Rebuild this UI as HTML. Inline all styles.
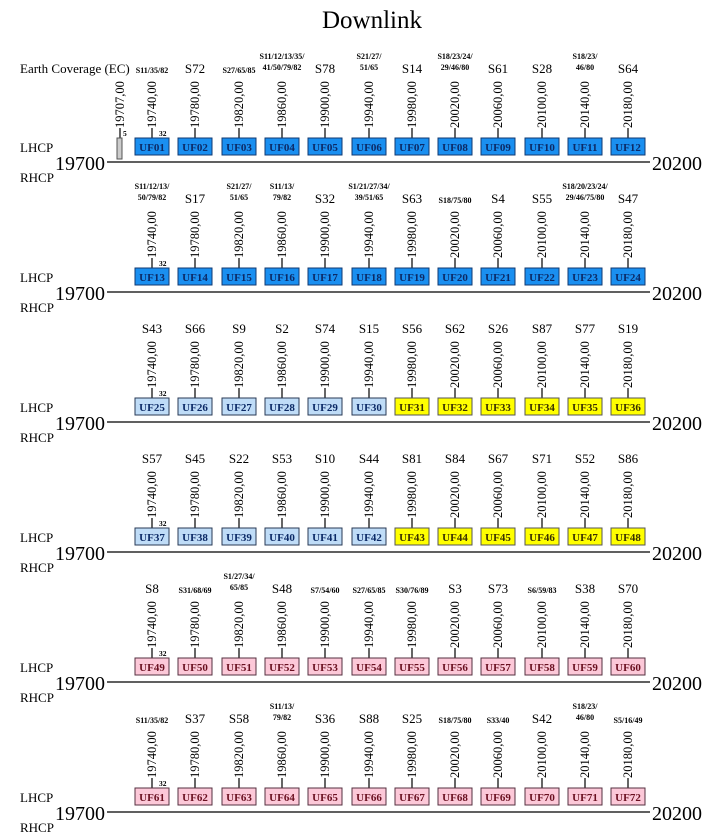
<!DOCTYPE html>
<html><head><meta charset="utf-8"><style>
body{margin:0;background:#fff}
svg{display:block;font-family:"Liberation Serif",serif}
.s{font-size:13px;text-anchor:middle}
.m{font-size:8px;font-weight:bold;text-anchor:middle}
.t{font-size:12.5px}
.u{font-size:11px;font-weight:bold;text-anchor:middle}
.n{font-size:7.5px;font-weight:bold}
line{stroke:#000;stroke-width:1.2}
.B rect{fill:#1a8ff0;stroke:#123a70}.B .u{fill:#0c2a66}
.L rect{fill:#bfdcf7;stroke:#2a3a55}.L .u{fill:#0c2a66}
.Y rect{fill:#ffff00;stroke:#555}.Y .u{fill:#3a3000}
.P rect{fill:#fcc8d8;stroke:#553040}.P .u{fill:#6a1020}
.ax{font-size:20px}
.lab{font-size:13px}
</style></head><body>
<svg width="710" height="840" viewBox="0 0 710 840">
<text x="372" y="28" style="font-size:25px" text-anchor="middle">Downlink</text>
<text x="20" y="73" class="lab">Earth Coverage (EC)</text>
<g><text class="t" transform="translate(124,128) rotate(-90)">19707,00</text><line x1="120" y1="128" x2="120" y2="138"/><rect x="117" y="138" width="5" height="21" fill="#ccc" stroke="#555"/><text class="n" x="123" y="136">5</text></g>

<!-- ROW TEMPLATE -->
<g id="r1" class="B">
<g transform="translate(152,0)"><text class="m" y="73">S11/35/82</text><text class="t" transform="translate(4,128) rotate(-90)">19740,00</text><line x1="0" y1="128" x2="0" y2="138"/><text class="n" x="7" y="136">32</text><rect x="-17" y="138" width="34" height="17"/><text class="u" y="151">UF01</text></g>
<g transform="translate(195,0)"><text class="s" y="73">S72</text><text class="t" transform="translate(4,128) rotate(-90)">19780,00</text><line x1="0" y1="128" x2="0" y2="138"/><rect x="-17" y="138" width="34" height="17"/><text class="u" y="151">UF02</text></g>
<g transform="translate(239,0)"><text class="m" y="73">S27/65/85</text><text class="t" transform="translate(4,128) rotate(-90)">19820,00</text><line x1="0" y1="128" x2="0" y2="138"/><rect x="-17" y="138" width="34" height="17"/><text class="u" y="151">UF03</text></g>
<g transform="translate(282,0)"><text class="m" y="59">S11/12/13/35/</text><text class="m" y="70">41/50/79/82</text><text class="t" transform="translate(4,128) rotate(-90)">19860,00</text><line x1="0" y1="128" x2="0" y2="138"/><rect x="-17" y="138" width="34" height="17"/><text class="u" y="151">UF04</text></g>
<g transform="translate(325,0)"><text class="s" y="73">S78</text><text class="t" transform="translate(4,128) rotate(-90)">19900,00</text><line x1="0" y1="128" x2="0" y2="138"/><rect x="-17" y="138" width="34" height="17"/><text class="u" y="151">UF05</text></g>
<g transform="translate(369,0)"><text class="m" y="59">S21/27/</text><text class="m" y="70">51/65</text><text class="t" transform="translate(4,128) rotate(-90)">19940,00</text><line x1="0" y1="128" x2="0" y2="138"/><rect x="-17" y="138" width="34" height="17"/><text class="u" y="151">UF06</text></g>
<g transform="translate(412,0)"><text class="s" y="73">S14</text><text class="t" transform="translate(4,128) rotate(-90)">19980,00</text><line x1="0" y1="128" x2="0" y2="138"/><rect x="-17" y="138" width="34" height="17"/><text class="u" y="151">UF07</text></g>
<g transform="translate(455,0)"><text class="m" y="59">S18/23/24/</text><text class="m" y="70">29/46/80</text><text class="t" transform="translate(4,128) rotate(-90)">20020,00</text><line x1="0" y1="128" x2="0" y2="138"/><rect x="-17" y="138" width="34" height="17"/><text class="u" y="151">UF08</text></g>
<g transform="translate(498,0)"><text class="s" y="73">S61</text><text class="t" transform="translate(4,128) rotate(-90)">20060,00</text><line x1="0" y1="128" x2="0" y2="138"/><rect x="-17" y="138" width="34" height="17"/><text class="u" y="151">UF09</text></g>
<g transform="translate(542,0)"><text class="s" y="73">S28</text><text class="t" transform="translate(4,128) rotate(-90)">20100,00</text><line x1="0" y1="128" x2="0" y2="138"/><rect x="-17" y="138" width="34" height="17"/><text class="u" y="151">UF10</text></g>
<g transform="translate(585,0)"><text class="m" y="59">S18/23/</text><text class="m" y="70">46/80</text><text class="t" transform="translate(4,128) rotate(-90)">20140,00</text><line x1="0" y1="128" x2="0" y2="138"/><rect x="-17" y="138" width="34" height="17"/><text class="u" y="151">UF11</text></g>
<g transform="translate(628,0)"><text class="s" y="73">S64</text><text class="t" transform="translate(4,128) rotate(-90)">20180,00</text><line x1="0" y1="128" x2="0" y2="138"/><rect x="-17" y="138" width="34" height="17"/><text class="u" y="151">UF12</text></g>
<text class="lab" x="20" y="152">LHCP</text><text class="ax" x="105" y="170" text-anchor="end">19700</text><line x1="107" y1="162" x2="650" y2="162"/><text class="ax" x="652" y="170">20200</text><text class="lab" x="20" y="182">RHCP</text>
</g>

<g class="B" transform="translate(0,130)">
<g transform="translate(152,0)"><text class="m" y="59">S11/12/13/</text><text class="m" y="70">50/79/82</text><text class="t" transform="translate(4,128) rotate(-90)">19740,00</text><line x1="0" y1="128" x2="0" y2="138"/><text class="n" x="7" y="136">32</text><rect x="-17" y="138" width="34" height="17"/><text class="u" y="151">UF13</text></g>
<g transform="translate(195,0)"><text class="s" y="73">S17</text><text class="t" transform="translate(4,128) rotate(-90)">19780,00</text><line x1="0" y1="128" x2="0" y2="138"/><rect x="-17" y="138" width="34" height="17"/><text class="u" y="151">UF14</text></g>
<g transform="translate(239,0)"><text class="m" y="59">S21/27/</text><text class="m" y="70">51/65</text><text class="t" transform="translate(4,128) rotate(-90)">19820,00</text><line x1="0" y1="128" x2="0" y2="138"/><rect x="-17" y="138" width="34" height="17"/><text class="u" y="151">UF15</text></g>
<g transform="translate(282,0)"><text class="m" y="59">S11/13/</text><text class="m" y="70">79/82</text><text class="t" transform="translate(4,128) rotate(-90)">19860,00</text><line x1="0" y1="128" x2="0" y2="138"/><rect x="-17" y="138" width="34" height="17"/><text class="u" y="151">UF16</text></g>
<g transform="translate(325,0)"><text class="s" y="73">S32</text><text class="t" transform="translate(4,128) rotate(-90)">19900,00</text><line x1="0" y1="128" x2="0" y2="138"/><rect x="-17" y="138" width="34" height="17"/><text class="u" y="151">UF17</text></g>
<g transform="translate(369,0)"><text class="m" y="59">S1/21/27/34/</text><text class="m" y="70">39/51/65</text><text class="t" transform="translate(4,128) rotate(-90)">19940,00</text><line x1="0" y1="128" x2="0" y2="138"/><rect x="-17" y="138" width="34" height="17"/><text class="u" y="151">UF18</text></g>
<g transform="translate(412,0)"><text class="s" y="73">S63</text><text class="t" transform="translate(4,128) rotate(-90)">19980,00</text><line x1="0" y1="128" x2="0" y2="138"/><rect x="-17" y="138" width="34" height="17"/><text class="u" y="151">UF19</text></g>
<g transform="translate(455,0)"><text class="m" y="73">S18/75/80</text><text class="t" transform="translate(4,128) rotate(-90)">20020,00</text><line x1="0" y1="128" x2="0" y2="138"/><rect x="-17" y="138" width="34" height="17"/><text class="u" y="151">UF20</text></g>
<g transform="translate(498,0)"><text class="s" y="73">S4</text><text class="t" transform="translate(4,128) rotate(-90)">20060,00</text><line x1="0" y1="128" x2="0" y2="138"/><rect x="-17" y="138" width="34" height="17"/><text class="u" y="151">UF21</text></g>
<g transform="translate(542,0)"><text class="s" y="73">S55</text><text class="t" transform="translate(4,128) rotate(-90)">20100,00</text><line x1="0" y1="128" x2="0" y2="138"/><rect x="-17" y="138" width="34" height="17"/><text class="u" y="151">UF22</text></g>
<g transform="translate(585,0)"><text class="m" y="59">S18/20/23/24/</text><text class="m" y="70">29/46/75/80</text><text class="t" transform="translate(4,128) rotate(-90)">20140,00</text><line x1="0" y1="128" x2="0" y2="138"/><rect x="-17" y="138" width="34" height="17"/><text class="u" y="151">UF23</text></g>
<g transform="translate(628,0)"><text class="s" y="73">S47</text><text class="t" transform="translate(4,128) rotate(-90)">20180,00</text><line x1="0" y1="128" x2="0" y2="138"/><rect x="-17" y="138" width="34" height="17"/><text class="u" y="151">UF24</text></g>
<text class="lab" x="20" y="152">LHCP</text><text class="ax" x="105" y="170" text-anchor="end">19700</text><line x1="107" y1="162" x2="650" y2="162"/><text class="ax" x="652" y="170">20200</text><text class="lab" x="20" y="182">RHCP</text>
</g>

<g transform="translate(0,260)">
<g class="L" transform="translate(152,0)"><text class="s" y="73">S43</text><text class="t" transform="translate(4,128) rotate(-90)">19740,00</text><line x1="0" y1="128" x2="0" y2="138"/><text class="n" x="7" y="136">32</text><rect x="-17" y="138" width="34" height="17"/><text class="u" y="151">UF25</text></g>
<g class="L" transform="translate(195,0)"><text class="s" y="73">S66</text><text class="t" transform="translate(4,128) rotate(-90)">19780,00</text><line x1="0" y1="128" x2="0" y2="138"/><rect x="-17" y="138" width="34" height="17"/><text class="u" y="151">UF26</text></g>
<g class="L" transform="translate(239,0)"><text class="s" y="73">S9</text><text class="t" transform="translate(4,128) rotate(-90)">19820,00</text><line x1="0" y1="128" x2="0" y2="138"/><rect x="-17" y="138" width="34" height="17"/><text class="u" y="151">UF27</text></g>
<g class="L" transform="translate(282,0)"><text class="s" y="73">S2</text><text class="t" transform="translate(4,128) rotate(-90)">19860,00</text><line x1="0" y1="128" x2="0" y2="138"/><rect x="-17" y="138" width="34" height="17"/><text class="u" y="151">UF28</text></g>
<g class="L" transform="translate(325,0)"><text class="s" y="73">S74</text><text class="t" transform="translate(4,128) rotate(-90)">19900,00</text><line x1="0" y1="128" x2="0" y2="138"/><rect x="-17" y="138" width="34" height="17"/><text class="u" y="151">UF29</text></g>
<g class="L" transform="translate(369,0)"><text class="s" y="73">S15</text><text class="t" transform="translate(4,128) rotate(-90)">19940,00</text><line x1="0" y1="128" x2="0" y2="138"/><rect x="-17" y="138" width="34" height="17"/><text class="u" y="151">UF30</text></g>
<g class="Y" transform="translate(412,0)"><text class="s" y="73">S56</text><text class="t" transform="translate(4,128) rotate(-90)">19980,00</text><line x1="0" y1="128" x2="0" y2="138"/><rect x="-17" y="138" width="34" height="17"/><text class="u" y="151">UF31</text></g>
<g class="Y" transform="translate(455,0)"><text class="s" y="73">S62</text><text class="t" transform="translate(4,128) rotate(-90)">20020,00</text><line x1="0" y1="128" x2="0" y2="138"/><rect x="-17" y="138" width="34" height="17"/><text class="u" y="151">UF32</text></g>
<g class="Y" transform="translate(498,0)"><text class="s" y="73">S26</text><text class="t" transform="translate(4,128) rotate(-90)">20060,00</text><line x1="0" y1="128" x2="0" y2="138"/><rect x="-17" y="138" width="34" height="17"/><text class="u" y="151">UF33</text></g>
<g class="Y" transform="translate(542,0)"><text class="s" y="73">S87</text><text class="t" transform="translate(4,128) rotate(-90)">20100,00</text><line x1="0" y1="128" x2="0" y2="138"/><rect x="-17" y="138" width="34" height="17"/><text class="u" y="151">UF34</text></g>
<g class="Y" transform="translate(585,0)"><text class="s" y="73">S77</text><text class="t" transform="translate(4,128) rotate(-90)">20140,00</text><line x1="0" y1="128" x2="0" y2="138"/><rect x="-17" y="138" width="34" height="17"/><text class="u" y="151">UF35</text></g>
<g class="Y" transform="translate(628,0)"><text class="s" y="73">S19</text><text class="t" transform="translate(4,128) rotate(-90)">20180,00</text><line x1="0" y1="128" x2="0" y2="138"/><rect x="-17" y="138" width="34" height="17"/><text class="u" y="151">UF36</text></g>
<text class="lab" x="20" y="152">LHCP</text><text class="ax" x="105" y="170" text-anchor="end">19700</text><line x1="107" y1="162" x2="650" y2="162"/><text class="ax" x="652" y="170">20200</text><text class="lab" x="20" y="182">RHCP</text>
</g>

<g transform="translate(0,390)">
<g class="L" transform="translate(152,0)"><text class="s" y="73">S57</text><text class="t" transform="translate(4,128) rotate(-90)">19740,00</text><line x1="0" y1="128" x2="0" y2="138"/><text class="n" x="7" y="136">32</text><rect x="-17" y="138" width="34" height="17"/><text class="u" y="151">UF37</text></g>
<g class="L" transform="translate(195,0)"><text class="s" y="73">S45</text><text class="t" transform="translate(4,128) rotate(-90)">19780,00</text><line x1="0" y1="128" x2="0" y2="138"/><rect x="-17" y="138" width="34" height="17"/><text class="u" y="151">UF38</text></g>
<g class="L" transform="translate(239,0)"><text class="s" y="73">S22</text><text class="t" transform="translate(4,128) rotate(-90)">19820,00</text><line x1="0" y1="128" x2="0" y2="138"/><rect x="-17" y="138" width="34" height="17"/><text class="u" y="151">UF39</text></g>
<g class="L" transform="translate(282,0)"><text class="s" y="73">S53</text><text class="t" transform="translate(4,128) rotate(-90)">19860,00</text><line x1="0" y1="128" x2="0" y2="138"/><rect x="-17" y="138" width="34" height="17"/><text class="u" y="151">UF40</text></g>
<g class="L" transform="translate(325,0)"><text class="s" y="73">S10</text><text class="t" transform="translate(4,128) rotate(-90)">19900,00</text><line x1="0" y1="128" x2="0" y2="138"/><rect x="-17" y="138" width="34" height="17"/><text class="u" y="151">UF41</text></g>
<g class="L" transform="translate(369,0)"><text class="s" y="73">S44</text><text class="t" transform="translate(4,128) rotate(-90)">19940,00</text><line x1="0" y1="128" x2="0" y2="138"/><rect x="-17" y="138" width="34" height="17"/><text class="u" y="151">UF42</text></g>
<g class="Y" transform="translate(412,0)"><text class="s" y="73">S81</text><text class="t" transform="translate(4,128) rotate(-90)">19980,00</text><line x1="0" y1="128" x2="0" y2="138"/><rect x="-17" y="138" width="34" height="17"/><text class="u" y="151">UF43</text></g>
<g class="Y" transform="translate(455,0)"><text class="s" y="73">S84</text><text class="t" transform="translate(4,128) rotate(-90)">20020,00</text><line x1="0" y1="128" x2="0" y2="138"/><rect x="-17" y="138" width="34" height="17"/><text class="u" y="151">UF44</text></g>
<g class="Y" transform="translate(498,0)"><text class="s" y="73">S67</text><text class="t" transform="translate(4,128) rotate(-90)">20060,00</text><line x1="0" y1="128" x2="0" y2="138"/><rect x="-17" y="138" width="34" height="17"/><text class="u" y="151">UF45</text></g>
<g class="Y" transform="translate(542,0)"><text class="s" y="73">S71</text><text class="t" transform="translate(4,128) rotate(-90)">20100,00</text><line x1="0" y1="128" x2="0" y2="138"/><rect x="-17" y="138" width="34" height="17"/><text class="u" y="151">UF46</text></g>
<g class="Y" transform="translate(585,0)"><text class="s" y="73">S52</text><text class="t" transform="translate(4,128) rotate(-90)">20140,00</text><line x1="0" y1="128" x2="0" y2="138"/><rect x="-17" y="138" width="34" height="17"/><text class="u" y="151">UF47</text></g>
<g class="Y" transform="translate(628,0)"><text class="s" y="73">S86</text><text class="t" transform="translate(4,128) rotate(-90)">20180,00</text><line x1="0" y1="128" x2="0" y2="138"/><rect x="-17" y="138" width="34" height="17"/><text class="u" y="151">UF48</text></g>
<text class="lab" x="20" y="152">LHCP</text><text class="ax" x="105" y="170" text-anchor="end">19700</text><line x1="107" y1="162" x2="650" y2="162"/><text class="ax" x="652" y="170">20200</text><text class="lab" x="20" y="182">RHCP</text>
</g>

<g class="P" transform="translate(0,520)">
<g transform="translate(152,0)"><text class="s" y="73">S8</text><text class="t" transform="translate(4,128) rotate(-90)">19740,00</text><line x1="0" y1="128" x2="0" y2="138"/><text class="n" x="7" y="136">32</text><rect x="-17" y="138" width="34" height="17"/><text class="u" y="151">UF49</text></g>
<g transform="translate(195,0)"><text class="m" y="73">S31/68/69</text><text class="t" transform="translate(4,128) rotate(-90)">19780,00</text><line x1="0" y1="128" x2="0" y2="138"/><rect x="-17" y="138" width="34" height="17"/><text class="u" y="151">UF50</text></g>
<g transform="translate(239,0)"><text class="m" y="59">S1/27/34/</text><text class="m" y="70">65/85</text><text class="t" transform="translate(4,128) rotate(-90)">19820,00</text><line x1="0" y1="128" x2="0" y2="138"/><rect x="-17" y="138" width="34" height="17"/><text class="u" y="151">UF51</text></g>
<g transform="translate(282,0)"><text class="s" y="73">S48</text><text class="t" transform="translate(4,128) rotate(-90)">19860,00</text><line x1="0" y1="128" x2="0" y2="138"/><rect x="-17" y="138" width="34" height="17"/><text class="u" y="151">UF52</text></g>
<g transform="translate(325,0)"><text class="m" y="73">S7/54/60</text><text class="t" transform="translate(4,128) rotate(-90)">19900,00</text><line x1="0" y1="128" x2="0" y2="138"/><rect x="-17" y="138" width="34" height="17"/><text class="u" y="151">UF53</text></g>
<g transform="translate(369,0)"><text class="m" y="73">S27/65/85</text><text class="t" transform="translate(4,128) rotate(-90)">19940,00</text><line x1="0" y1="128" x2="0" y2="138"/><rect x="-17" y="138" width="34" height="17"/><text class="u" y="151">UF54</text></g>
<g transform="translate(412,0)"><text class="m" y="73">S30/76/89</text><text class="t" transform="translate(4,128) rotate(-90)">19980,00</text><line x1="0" y1="128" x2="0" y2="138"/><rect x="-17" y="138" width="34" height="17"/><text class="u" y="151">UF55</text></g>
<g transform="translate(455,0)"><text class="s" y="73">S3</text><text class="t" transform="translate(4,128) rotate(-90)">20020,00</text><line x1="0" y1="128" x2="0" y2="138"/><rect x="-17" y="138" width="34" height="17"/><text class="u" y="151">UF56</text></g>
<g transform="translate(498,0)"><text class="s" y="73">S73</text><text class="t" transform="translate(4,128) rotate(-90)">20060,00</text><line x1="0" y1="128" x2="0" y2="138"/><rect x="-17" y="138" width="34" height="17"/><text class="u" y="151">UF57</text></g>
<g transform="translate(542,0)"><text class="m" y="73">S6/59/83</text><text class="t" transform="translate(4,128) rotate(-90)">20100,00</text><line x1="0" y1="128" x2="0" y2="138"/><rect x="-17" y="138" width="34" height="17"/><text class="u" y="151">UF58</text></g>
<g transform="translate(585,0)"><text class="s" y="73">S38</text><text class="t" transform="translate(4,128) rotate(-90)">20140,00</text><line x1="0" y1="128" x2="0" y2="138"/><rect x="-17" y="138" width="34" height="17"/><text class="u" y="151">UF59</text></g>
<g transform="translate(628,0)"><text class="s" y="73">S70</text><text class="t" transform="translate(4,128) rotate(-90)">20180,00</text><line x1="0" y1="128" x2="0" y2="138"/><rect x="-17" y="138" width="34" height="17"/><text class="u" y="151">UF60</text></g>
<text class="lab" x="20" y="152">LHCP</text><text class="ax" x="105" y="170" text-anchor="end">19700</text><line x1="107" y1="162" x2="650" y2="162"/><text class="ax" x="652" y="170">20200</text><text class="lab" x="20" y="182">RHCP</text>
</g>

<g class="P" transform="translate(0,650)">
<g transform="translate(152,0)"><text class="m" y="73">S11/35/82</text><text class="t" transform="translate(4,128) rotate(-90)">19740,00</text><line x1="0" y1="128" x2="0" y2="138"/><text class="n" x="7" y="136">32</text><rect x="-17" y="138" width="34" height="17"/><text class="u" y="151">UF61</text></g>
<g transform="translate(195,0)"><text class="s" y="73">S37</text><text class="t" transform="translate(4,128) rotate(-90)">19780,00</text><line x1="0" y1="128" x2="0" y2="138"/><rect x="-17" y="138" width="34" height="17"/><text class="u" y="151">UF62</text></g>
<g transform="translate(239,0)"><text class="s" y="73">S58</text><text class="t" transform="translate(4,128) rotate(-90)">19820,00</text><line x1="0" y1="128" x2="0" y2="138"/><rect x="-17" y="138" width="34" height="17"/><text class="u" y="151">UF63</text></g>
<g transform="translate(282,0)"><text class="m" y="59">S11/13/</text><text class="m" y="70">79/82</text><text class="t" transform="translate(4,128) rotate(-90)">19860,00</text><line x1="0" y1="128" x2="0" y2="138"/><rect x="-17" y="138" width="34" height="17"/><text class="u" y="151">UF64</text></g>
<g transform="translate(325,0)"><text class="s" y="73">S36</text><text class="t" transform="translate(4,128) rotate(-90)">19900,00</text><line x1="0" y1="128" x2="0" y2="138"/><rect x="-17" y="138" width="34" height="17"/><text class="u" y="151">UF65</text></g>
<g transform="translate(369,0)"><text class="s" y="73">S88</text><text class="t" transform="translate(4,128) rotate(-90)">19940,00</text><line x1="0" y1="128" x2="0" y2="138"/><rect x="-17" y="138" width="34" height="17"/><text class="u" y="151">UF66</text></g>
<g transform="translate(412,0)"><text class="s" y="73">S25</text><text class="t" transform="translate(4,128) rotate(-90)">19980,00</text><line x1="0" y1="128" x2="0" y2="138"/><rect x="-17" y="138" width="34" height="17"/><text class="u" y="151">UF67</text></g>
<g transform="translate(455,0)"><text class="m" y="73">S18/75/80</text><text class="t" transform="translate(4,128) rotate(-90)">20020,00</text><line x1="0" y1="128" x2="0" y2="138"/><rect x="-17" y="138" width="34" height="17"/><text class="u" y="151">UF68</text></g>
<g transform="translate(498,0)"><text class="m" y="73">S33/40</text><text class="t" transform="translate(4,128) rotate(-90)">20060,00</text><line x1="0" y1="128" x2="0" y2="138"/><rect x="-17" y="138" width="34" height="17"/><text class="u" y="151">UF69</text></g>
<g transform="translate(542,0)"><text class="s" y="73">S42</text><text class="t" transform="translate(4,128) rotate(-90)">20100,00</text><line x1="0" y1="128" x2="0" y2="138"/><rect x="-17" y="138" width="34" height="17"/><text class="u" y="151">UF70</text></g>
<g transform="translate(585,0)"><text class="m" y="59">S18/23/</text><text class="m" y="70">46/80</text><text class="t" transform="translate(4,128) rotate(-90)">20140,00</text><line x1="0" y1="128" x2="0" y2="138"/><rect x="-17" y="138" width="34" height="17"/><text class="u" y="151">UF71</text></g>
<g transform="translate(628,0)"><text class="m" y="73">S5/16/49</text><text class="t" transform="translate(4,128) rotate(-90)">20180,00</text><line x1="0" y1="128" x2="0" y2="138"/><rect x="-17" y="138" width="34" height="17"/><text class="u" y="151">UF72</text></g>
<text class="lab" x="20" y="152">LHCP</text><text class="ax" x="105" y="170" text-anchor="end">19700</text><line x1="107" y1="162" x2="650" y2="162"/><text class="ax" x="652" y="170">20200</text><text class="lab" x="20" y="182">RHCP</text>
</g>
</svg>
</body></html>
